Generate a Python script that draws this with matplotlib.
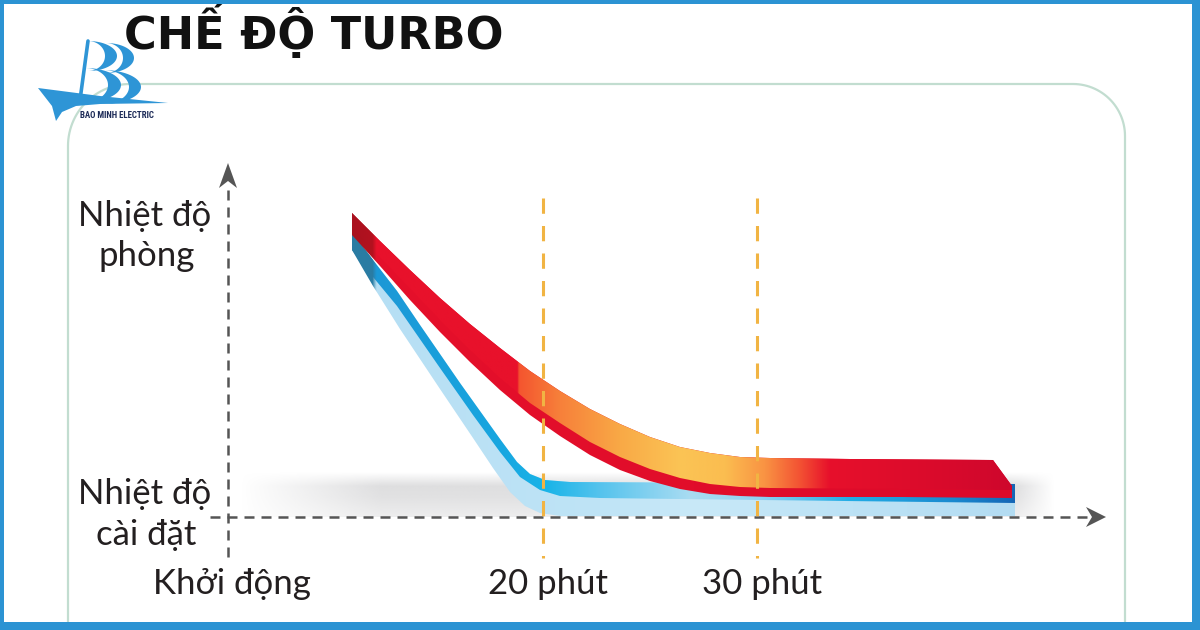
import numpy as np
import matplotlib
matplotlib.use("Agg")
import matplotlib.pyplot as plt
from matplotlib.patches import Polygon, Rectangle
from matplotlib.colors import to_rgb
from matplotlib import font_manager as fm

# ---------------- data (pixel-like chart units) ----------------
title = "CHẾ ĐỘ TURBO"
y_label_room = ["Nhiệt độ", "phòng"]
y_label_set = ["Nhiệt độ", "cài đặt"]
x_tick_labels = ["Khởi động", "20 phút", "30 phút"]
x_tick_centers = [232, 548, 762]
marker_x = [543, 757]          # 20 phút, 30 phút guide lines
axis_origin = (228, 517)

# room-temperature ribbon (red): upper edge, face lower edge, ribbon lower edge
red_top_x = [352, 380, 410, 440, 470, 500, 530, 560, 590, 620, 650, 680, 710, 740, 770, 850, 993, 1012]
red_top_y = [213, 241, 270, 298, 324, 348, 371, 391, 409, 424, 437, 447, 453, 457, 458, 459, 460, 486]
red_face_x = [352, 440, 470, 500, 530, 560, 590, 620, 650, 680, 710, 740, 770, 900, 1012]
red_face_y = [228, 320, 350, 378, 403, 423, 442, 457, 469, 478, 484, 487, 488, 489, 490]
red_bot_x = [352, 380, 410, 440, 470, 500, 530, 560, 590, 620, 650, 680, 710, 740, 770, 900, 1012]
red_bot_y = [235, 266, 300, 332, 362, 390, 415, 436, 455, 470, 481, 489, 494, 496, 497, 497, 498]

# set-temperature ribbon (blue): upper edge, face lower edge, ribbon lower edge
blue_top_x = [352, 373, 397, 420, 440, 460, 480, 500, 517, 530, 545, 570, 760, 1015]
blue_top_y = [232, 260, 291, 325, 354, 383, 411, 439, 462, 474, 480, 482, 483, 484]
blue_face_x = [352, 373, 397, 440, 473, 500, 520, 540, 560, 600, 760, 1015]
blue_face_y = [250, 277, 306, 368, 415, 452, 477, 490, 496, 498, 500, 503]
blue_bot_x = [352, 373, 400, 440, 473, 493, 510, 525, 540, 560, 1015]
blue_bot_y = [250, 286, 329, 389, 438, 468, 492, 506, 513, 516, 516]

# ---------------- helpers ----------------
def has_font(name):
    try:
        fm.findfont(fm.FontProperties(family=name), fallback_to_default=False)
        return True
    except Exception:
        return False

main_font = "Lato" if has_font("Lato") else "Open Sans"
fam = [main_font, "DejaVu Sans"]
narrow = "DejaVu Sans"
for cand in ["Liberation Sans Narrow", "DejaVu Sans Condensed", "Roboto Condensed"]:
    if has_font(cand):
        narrow = cand
        break

W, H = 1200, 630
fig = plt.figure(figsize=(12, 6.3), dpi=100)
fig.patch.set_facecolor("white")
ax = fig.add_axes([0, 0, 1, 1])
ax.set_xlim(0, W)
ax.set_ylim(H, 0)
ax.set_autoscale_on(False)
ax.axis("off")


def gradient_fill(poly, stops_x, stops_c, z, n=600):
    xs_all = np.array([p[0] for p in poly])
    ys_all = np.array([p[1] for p in poly])
    x0, x1 = xs_all.min(), xs_all.max()
    y0, y1 = ys_all.min(), ys_all.max()
    xs = np.linspace(x0, x1, n)
    cols = np.array([to_rgb(c) for c in stops_c])
    rgb = np.stack([np.interp(xs, stops_x, cols[:, i]) for i in range(3)], -1)
    img = rgb[None, :, :]
    patch = Polygon(poly, closed=True, fc="none", ec="none")
    ax.add_patch(patch)
    im = ax.imshow(img, extent=[x0, x1, y0, y1], origin="lower", aspect="auto",
                   interpolation="bilinear", zorder=z)
    im.set_clip_path(patch)


def edge_poly(tx, ty, bx, by):
    return list(zip(tx, ty)) + list(zip(bx[::-1], by[::-1]))


# ---------------- frame & box ----------------
border = "#2b93d3"
ax.add_patch(Rectangle((0, 0), W, 4, fc=border, ec="none", zorder=20))
ax.add_patch(Rectangle((0, 0), 4, H, fc=border, ec="none", zorder=20))
ax.add_patch(Rectangle((1192, 0), 8, H, fc=border, ec="none", zorder=20))
ax.add_patch(Rectangle((0, 622), W, 8, fc=border, ec="none", zorder=20))

L, T, R = 68, 84, 1125
rtl, rtr = 62, 52
t = np.linspace(np.pi, 1.5 * np.pi, 30)
tl_x = L + rtl + rtl * np.cos(t)
tl_y = T + rtl + rtl * np.sin(t)
t2 = np.linspace(1.5 * np.pi, 2 * np.pi, 30)
tr_x = R - rtr + rtr * np.cos(t2)
tr_y = T + rtr + rtr * np.sin(t2)
box_x = np.concatenate([[L], tl_x, tr_x, [R]])
box_y = np.concatenate([[640], tl_y, tr_y, [640]])
ax.plot(box_x, box_y, color="#c2ddd0", lw=1.6, zorder=1, solid_capstyle="butt")

# ---------------- logo ----------------
logo_blue = "#2e95d6"
hull = [(38, 88), (100, 96), (168, 103), (100, 104), (76, 106), (62, 112), (56, 121), (52, 106)]
ax.add_patch(Polygon(hull, closed=True, fc=logo_blue, ec="none", zorder=15))


def bump(cx, cy, rx, ry, thick):
    tt = np.linspace(-np.pi / 2, np.pi / 2, 40)
    ox = cx + rx * np.cos(tt)
    oy = cy + ry * np.sin(tt)
    ix = cx + (rx - thick) * np.cos(tt)
    iy = cy + ry * np.sin(tt)
    return list(zip(ox, oy)) + list(zip(ix[::-1], iy[::-1]))


for (cx, cy, rx, ry, th) in [(88, 56, 29, 15, 12), (85, 85, 36, 17, 13),
                             (106, 58, 28, 15, 11), (103, 87, 38, 17, 12)]:
    ax.add_patch(Polygon(bump(cx, cy, rx, ry, th), closed=True, fc=logo_blue, ec="none", zorder=15))
ax.plot([88, 80], [41, 100], color=logo_blue, lw=2.6, zorder=15, solid_capstyle="round")
ax.text(117, 118, "BAO MINH ELECTRIC", ha="center", va="baseline", fontsize=6.4,
        fontweight="bold", family=[narrow, "DejaVu Sans"], color="#1d2b58", zorder=16)

# ---------------- title ----------------
ax.text(124, 49, title, ha="left", va="baseline", fontsize=32, fontweight="bold",
        family=["DejaVu Sans"], color="#111111", zorder=16)

# ---------------- shadow under the ribbons ----------------
sx0, sx1, sy0, sy1 = 240, 1055, 470, 517
gx = np.linspace(sx0, sx1, 400)
gy = np.linspace(sy0, sy1, 80)
ax_alpha = np.interp(gx, [240, 380, 1012, 1020, 1055], [0, 1, 1, 0.9, 0])
ay_alpha = np.interp(gy, [472, 486, 497, 517], [0, 0.55, 0.5, 0.3])
alpha = ay_alpha[:, None] * ax_alpha[None, :]
shadow = np.zeros((len(gy), len(gx), 4))
shadow[..., :3] = to_rgb("#c4c4c6")
shadow[..., 3] = alpha
ax.imshow(shadow, extent=[sx0, sx1, sy0, sy1], origin="lower", aspect="auto",
          interpolation="bilinear", zorder=2)

# ---------------- blue ribbon ----------------
blue_all = edge_poly(blue_top_x, blue_top_y, blue_bot_x, blue_bot_y)
gradient_fill(blue_all,
              [352, 372, 376, 600, 700, 800, 1015],
              ["#2a7ca3", "#2a7ca3", "#b6dff4", "#bfe4f6", "#c9e9f8", "#bfe4f6", "#b3dcf2"], 3)
blue_face = edge_poly(blue_top_x, blue_top_y, blue_face_x, blue_face_y)
gradient_fill(blue_face,
              [352, 372, 376, 500, 545, 600, 690, 760, 850, 950, 1015],
              ["#2a7ca3", "#2a7ca3", "#1c98d6", "#17a6e0", "#18b4e8", "#55c3ed", "#a9dcf2",
               "#8fd1f0", "#23ade6", "#1a8bd0", "#1566b6"], 4)

# ---------------- red ribbon ----------------
red_all = list(zip(red_top_x, red_top_y)) + [(1012, 498)] + list(zip(red_bot_x[::-1], red_bot_y[::-1]))
gradient_fill(red_all,
              [352, 372, 376, 1012],
              ["#a8121e", "#b3121f", "#e5102b", "#dd0a2a"], 5)
red_face = list(zip(red_top_x, red_top_y)) + list(zip(red_face_x[::-1], red_face_y[::-1]))
gradient_fill(red_face,
              [352, 372, 376, 517, 519, 560, 620, 680, 725, 765, 800, 830, 950, 1012],
              ["#aa111f", "#b3121f", "#e8112b", "#e8112b", "#f4552f", "#f7803a", "#f9a946",
               "#fbc455", "#fbbd50", "#f99343", "#f35233", "#e7102b", "#d80a2c", "#ce072c"], 6)

# ---------------- axes arrows ----------------
ax_col = "#555555"
ox, oy = axis_origin
ax.plot([ox, ox], [557, 186], color=ax_col, lw=1.8, dashes=(4, 2.8), zorder=7)
ax.plot([210, 1090], [oy, oy], color=ax_col, lw=1.8, dashes=(4, 2.8), zorder=7)
ax.add_patch(Polygon([(ox, 163), (ox - 9, 188), (ox, 181), (ox + 9, 188)], closed=True,
                     fc=ax_col, ec="none", zorder=7))
ax.add_patch(Polygon([(1106, oy), (1086, oy - 10), (1092, oy), (1086, oy + 10)], closed=True,
                     fc=ax_col, ec="none", zorder=7))

# ---------------- guide lines ----------------
for mx in marker_x:
    ax.plot([mx, mx], [198, 558], color="#f1b443", lw=2.2, dashes=(5, 4), zorder=8)

# ---------------- labels ----------------
tc = "#231f20"
fs = 25
ax.text(145, 226, y_label_room[0], ha="center", va="baseline", fontsize=fs, family=fam, color=tc, zorder=9)
ax.text(147, 266, y_label_room[1], ha="center", va="baseline", fontsize=fs, family=fam, color=tc, zorder=9)
ax.text(145, 504, y_label_set[0], ha="center", va="baseline", fontsize=fs, family=fam, color=tc, zorder=9)
ax.text(146, 545, y_label_set[1], ha="center", va="baseline", fontsize=fs, family=fam, color=tc, zorder=9)
for lab, cx in zip(x_tick_labels, x_tick_centers):
    ax.text(cx, 594, lab, ha="center", va="baseline", fontsize=fs, family=fam, color=tc, zorder=9)

fig.savefig("out.png", dpi=100, facecolor="white")
